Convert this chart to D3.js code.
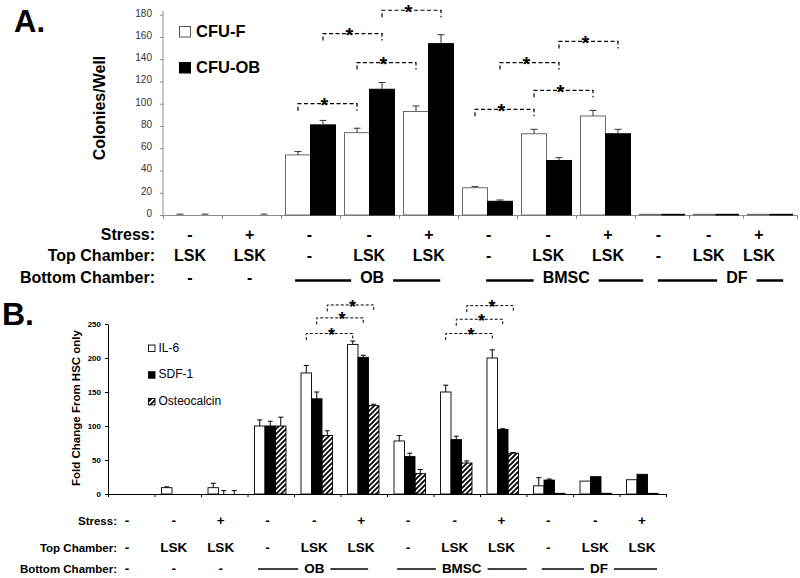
<!DOCTYPE html>
<html><head><meta charset="utf-8">
<script src="https://cdn.jsdelivr.net/npm/d3@7"></script>
<style>body{margin:0;background:#fff}svg{display:block;font-family:Arial,"Liberation Sans",sans-serif}</style>
</head><body><svg id="c" width="800" height="578"></svg>
<script>
// ---------- Panel A data ----------
const catsA = d3.range(11);
const cfuF     = [0, 0, 54, 74, 93, 24.5, 73, 89, 0.6, 0.6, 0.6];
const cfuFErr  = [0.8, 0, 3, 4, 5, 1, 4, 5, 0, 0, 0];
const cfuOB    = [0, 0, 81, 113, 154, 12.3, 49, 73, 0.6, 0.6, 0.6];
const cfuOBErr = [0.8, 0.8, 4, 6, 8, 1.2, 2.5, 4, 0, 0, 0];
const ticksA   = [0, 20, 40, 60, 80, 100, 120, 140, 160, 180];
const seriesA  = ["CFU-F", "CFU-OB"];
const stressA  = ["-", "+", "-", "-", "+", "-", "-", "+", "-", "-", "+"];
const topA     = ["LSK", "LSK", "-", "LSK", "LSK", "-", "LSK", "LSK", "-", "LSK", "LSK"];
const bottomSinglesA = ["-", "-"];
const bottomGroupsA  = ["OB", "BMSC", "DF"];
// significance brackets: [category from, category to, series index, level]
const bracketsA = [[2,3,0,100],[2,3,1,163],[3,4,0,137],[3,4,1,184],[5,6,0,95],[5,6,1,137],[6,7,0,112],[6,7,1,156]];

// ---------- Panel B data ----------
const catsB = d3.range(12);
const il6     = [0, 9.3, 9.3, 100, 178, 220, 78, 150, 200, 12, 19, 21];
const il6Err  = [0, 1.2, 6.5, 9, 11, 5, 8, 10, 12, 12, 0, 0];
const sdf1    = [0, 0, 0, 100, 140, 201, 55, 80, 95, 20.5, 25.5, 29];
const sdf1Err = [0, 0, 5, 7, 10, 3, 5, 5, 1, 1.5, 0, 0];
const ost     = [0, 0, 0, 100, 86, 130, 30, 45.6, 60, 1, 1, 1];
const ostErr  = [0, 0, 5, 13, 7, 2, 6, 3, 1, 0, 0, 0];
const ticksB  = [0, 50, 100, 150, 200, 250];
const seriesB = ["IL-6", "SDF-1", "Osteocalcin"];
const stressB = ["-", "-", "+", "-", "-", "+", "-", "-", "+", "-", "-", "+"];
const topB    = ["-", "LSK", "LSK", "-", "LSK", "LSK", "-", "LSK", "LSK", "-", "LSK", "LSK"];
const bottomSinglesB = ["-", "-", "-"];
const bottomGroupsB  = ["OB", "BMSC", "DF"];
const bracketsB = [[4,5,0,236],[4,5,1,259],[4,5,2,278],[7,8,0,236],[7,8,1,257],[7,8,2,277]];

// ---------- layout ----------
const svg = d3.select("#c");
const defs = svg.append("defs");
defs.append("pattern").attr("id","hatch").attr("patternUnits","userSpaceOnUse")
  .attr("width",5).attr("height",5)
  .append("path").attr("d","M-1,1 l2,-2 M0,5 l5,-5 M4,6 l2,-2")
  .attr("stroke","#000").attr("stroke-width",1.8);

function errBar(g, cx, v, e, y, half, color){
  if (!(e > 0)) return;
  g.append("line").attr("x1",cx).attr("x2",cx).attr("y1",y(v)).attr("y2",y(v+e))
    .attr("stroke",color).attr("stroke-width",1);
  g.append("line").attr("x1",cx-half).attr("x2",cx+half).attr("y1",y(v+e)).attr("y2",y(v+e))
    .attr("stroke",color).attr("stroke-width",1);
}
function bracket(g, x1, x2, yl, drop, dash, starX, fs, sw){
  g.append("path").attr("d",`M${x1},${yl+drop}V${yl}H${x2}V${yl+drop}`)
    .attr("fill","none").attr("stroke","#000").attr("stroke-width",sw).attr("stroke-dasharray",dash);
  g.append("text").attr("x",starX).attr("y",yl+fs*0.42).attr("text-anchor","middle")
    .attr("font-size",fs).attr("font-weight","bold").text("*");
}

// =================== PANEL A ===================
const gA = svg.append("g");
gA.append("text").attr("x",14).attr("y",32).attr("font-size",31).attr("font-weight","bold").text("A.");

const xA = d3.scaleLinear().domain([0,8,11]).range([163,635,797]);
const yA = d3.scaleLinear().domain([0,180]).range([215,14.7]);

// y axis
const yAxA = gA.append("g").attr("transform","translate(163,0)")
  .call(d3.axisLeft(yA).tickValues(ticksA).tickSize(3).tickSizeOuter(0).tickPadding(8));
yAxA.select(".domain").attr("stroke","#8c8c8c").attr("d","M0,215V11");
yAxA.selectAll(".tick line").attr("stroke","#8c8c8c");
yAxA.selectAll(".tick text").attr("font-size",10).attr("fill","#333").attr("dy","0.15em").attr("font-family","Arial");
// x axis
const xAxA = gA.append("g").attr("transform","translate(0,215)")
  .call(d3.axisBottom(xA).tickValues(d3.range(0,12)).tickSize(4).tickSizeOuter(0).tickFormat(""));
xAxA.select(".domain").attr("stroke","#8c8c8c");
xAxA.selectAll(".tick line").attr("stroke","#8c8c8c");

gA.append("text").attr("transform","translate(105,108) rotate(-90)").attr("text-anchor","middle")
  .attr("font-size",16).attr("font-weight","bold").text("Colonies/Well");

// bars A
const valsA = [cfuF, cfuOB], errsA = [cfuFErr, cfuOBErr];
function barXA(i, s){ const step = xA(i+1)-xA(i), bw = (step-9)/2; return {x: xA(i)+4.5+s*bw, w: bw}; }
catsA.forEach(i => {
  [0,1].forEach(s => {
    const v = valsA[s][i], b = barXA(i,s);
    if (v > 0) {
      gA.append("rect").attr("x",b.x).attr("y",yA(v)).attr("width",b.w).attr("height",yA(0)-yA(v))
        .attr("fill", s===0 ? "#fff" : "#000").attr("stroke", s===0 ? "#6a6a6a" : "#000").attr("stroke-width",1);
    }
  });
});
catsA.forEach(i => [0,1].forEach(s => {
  const b = barXA(i,s);
  errBar(gA, b.x+b.w/2, valsA[s][i], errsA[s][i], yA, 3.5, "#333");
}));
// brackets A
bracketsA.forEach(([c1,c2,s,lvl]) => {
  const b1 = barXA(c1,s), b2 = barXA(c2,s);
  const x1 = b1.x+b1.w/2, x2 = b2.x+b2.w/2;
  bracket(gA, x1, x2, yA(lvl), 7, "4,2.5", (x1+x2)/2-3, 20, 1.2);
});
// legend A
const legA = gA.append("g");
seriesA.forEach((name, s) => {
  const yy = 37 + s*36;
  legA.append("rect").attr("x",179.5).attr("y",yy-10.5).attr("width",11).attr("height",10.5)
    .attr("fill", s===0 ? "#fff" : "#000").attr("stroke", s===0 ? "#555" : "#000");
  legA.append("text").attr("x",196).attr("y",yy).attr("font-size",16.5).attr("font-weight","bold").text(name);
});

// table A
const tA = d3.scaleLinear().domain([0,7,10]).range([190,608,759]);
const rowsA = [240, 261, 283];
const tabA = gA.append("g").attr("font-weight","bold").attr("font-size",16);
["Stress:","Top Chamber:","Bottom Chamber:"].forEach((t,r) =>
  tabA.append("text").attr("x",155).attr("y",rowsA[r]).attr("text-anchor","end").text(t));
stressA.forEach((t,i) => tabA.append("text").attr("x",tA(i)).attr("y",rowsA[0]).attr("text-anchor","middle").text(t));
topA.forEach((t,i) => tabA.append("text").attr("x",tA(i)).attr("y",rowsA[1]).attr("text-anchor","middle").text(t));
bottomSinglesA.forEach((t,i) => tabA.append("text").attr("x",tA(i)).attr("y",rowsA[2]).attr("text-anchor","middle").text(t));
const groupSpanA = [[1.76,4.19,3.05],[4.96,7.70,6.3],[7.99,10.48,9.56]];
function groupLabel(g, scale, span, label, y, lineY, lw, gap){
  const cx = scale(span[2]);
  const txt = g.append("text").attr("x",cx).attr("y",y).attr("text-anchor","middle").text(label);
  const hw = txt.node().getComputedTextLength()/2;
  g.append("line").attr("x1",scale(span[0])).attr("x2",cx-hw-gap).attr("y1",lineY).attr("y2",lineY)
    .attr("stroke","#000").attr("stroke-width",lw);
  g.append("line").attr("x1",cx+hw+gap).attr("x2",scale(span[1])).attr("y1",lineY).attr("y2",lineY)
    .attr("stroke","#000").attr("stroke-width",lw);
}
bottomGroupsA.forEach((lab,k) => groupLabel(tabA, tA, groupSpanA[k], lab, rowsA[2], 280.5, 2.5, 9));

// =================== PANEL B ===================
const gB = svg.append("g");
gB.append("text").attr("x",2).attr("y",325).attr("font-size",32).attr("font-weight","bold").text("B.");

const xB = d3.scaleLinear().domain([0,12]).range([108,666]);
const yB = d3.scaleLinear().domain([0,250]).range([494,324]);

const yAxB = gB.append("g").attr("transform","translate(108,0)")
  .call(d3.axisLeft(yB).tickValues(ticksB).tickSize(3).tickSizeOuter(0).tickPadding(4));
yAxB.select(".domain").attr("stroke","#000");
yAxB.selectAll(".tick text").attr("font-size",8).attr("font-weight","bold").attr("fill","#000").attr("font-family","Arial");
const xAxB = gB.append("g").attr("transform","translate(0,494)")
  .call(d3.axisBottom(xB).tickValues(d3.range(0,13)).tickSize(3).tickSizeOuter(0).tickFormat(""));
xAxB.select(".domain").attr("stroke","#000");

gB.append("text").attr("transform","translate(80,408) rotate(-90)").attr("text-anchor","middle")
  .attr("font-size",11.5).attr("font-weight","bold").text("Fold Change From HSC only");

const valsB = [il6, sdf1, ost], errsB = [il6Err, sdf1Err, ostErr];
const fillsB = ["#fff", "#000", "url(#hatch)"];
const bwB = 10.5;
function barXB(i, s){ return xB(i) + 7 + s*bwB; }
catsB.forEach(i => [0,1,2].forEach(s => {
  const v = valsB[s][i];
  if (v > 0) {
    gB.append("rect").attr("x",barXB(i,s)).attr("y",yB(v)).attr("width",bwB).attr("height",yB(0)-yB(v))
      .attr("fill",fillsB[s]).attr("stroke","#000").attr("stroke-width",0.9);
  }
}));
catsB.forEach(i => [0,1,2].forEach(s => {
  errBar(gB, barXB(i,s)+bwB/2, valsB[s][i], errsB[s][i], yB, 2.5, "#000");
}));
bracketsB.forEach(([c1,c2,s,lvl]) => {
  const x1 = barXB(c1,s)+bwB/2, x2 = barXB(c2,s)+bwB/2;
  bracket(gB, x1, x2, yB(lvl), 6.5, "3,2", (x1+x2)/2+2, 18, 1);
});
// legend B
seriesB.forEach((name, s) => {
  const yy = 351.5 + s*26.7;
  gB.append("rect").attr("x",148.5).attr("y",yy-6.5).attr("width",6.5).attr("height",6.5)
    .attr("fill",fillsB[s]).attr("stroke","#000").attr("stroke-width",0.9);
  gB.append("text").attr("x",158.5).attr("y",yy).attr("font-size",12).text(name);
});

// table B
const tB = d3.scaleLinear().domain([0,11]).range([127,642]);
const rowsB = [525, 552, 573];
const tabB = gB.append("g").attr("font-weight","bold").attr("font-size",13.5);
["Stress:","Top Chamber:","Bottom Chamber:"].forEach((t,r) =>
  tabB.append("text").attr("x",117).attr("y",rowsB[r]).attr("text-anchor","end").attr("font-size",11.5).text(t));
stressB.forEach((t,i) => tabB.append("text").attr("x",tB(i)).attr("y",rowsB[0]).attr("text-anchor","middle").text(t));
topB.forEach((t,i) => tabB.append("text").attr("x",tB(i)).attr("y",rowsB[1]).attr("text-anchor","middle").text(t));
bottomSinglesB.forEach((t,i) => tabB.append("text").attr("x",tB(i)).attr("y",rowsB[2]).attr("text-anchor","middle").text(t));
const groupSpanB = [[2.8,5.15,4.0],[5.77,8.54,7.15],[8.86,11.32,10.08]];
bottomGroupsB.forEach((lab,k) => groupLabel(tabB, tB, groupSpanB[k], lab, rowsB[2], 569, 1.5, 6));
</script></body></html>
